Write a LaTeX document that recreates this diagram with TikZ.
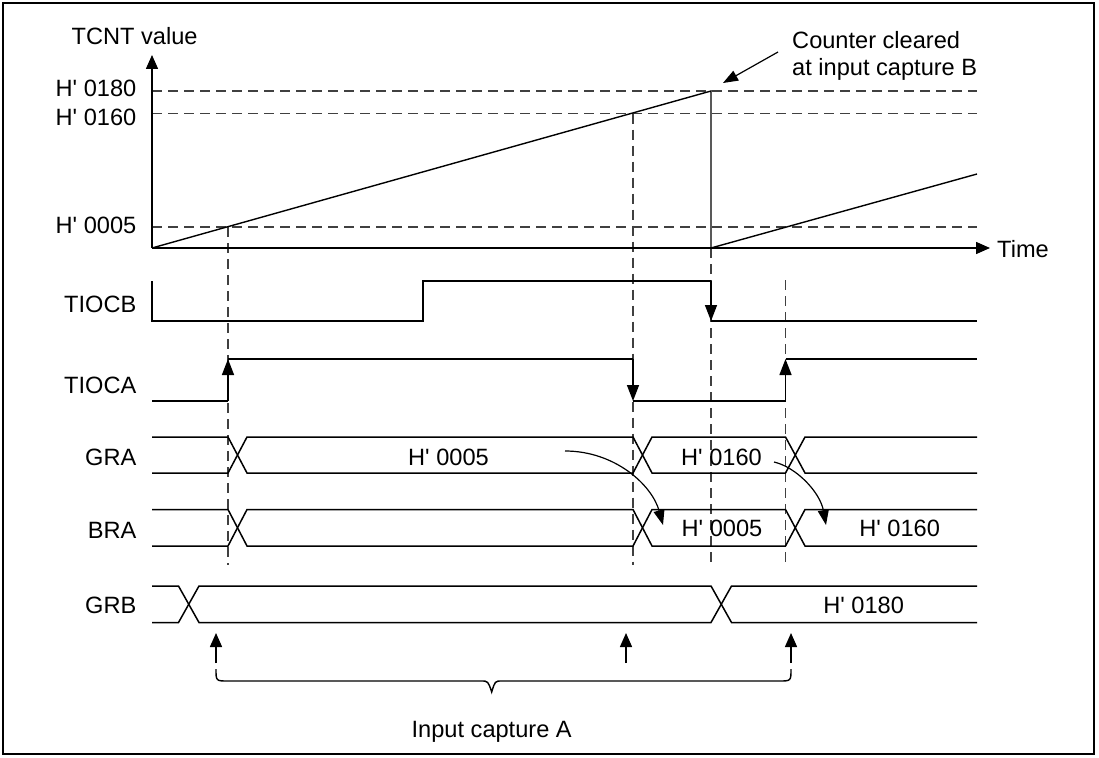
\documentclass[tikz,border=0pt]{standalone}
\usepackage{fontspec}
\newfontfamily\lsans{Liberation Sans}
\usetikzlibrary{arrows.meta}
\begin{document}
\begin{tikzpicture}[x=1pt,y=-1pt,
  sig/.style={line width=1.5pt,line cap=butt,line join=miter},
  dsh/.style={line width=1.1pt,black!75,dash pattern=on 10pt off 6pt},
  edgetip/.style={-{Triangle[width=12pt,length=16pt]}},
  axtip/.style={-{Triangle[width=12pt,length=14pt]}},
  curvtip/.style={-{Triangle[width=11pt,length=15pt]}},
  lbl/.style={inner sep=0pt,font=\lsans\fontsize{23.6}{28}\selectfont},
]
\useasboundingbox (0,0) rectangle (1099,757);
\draw[line width=1.6pt] (3,3) rectangle (1094,754);

% ---------- dashed guide lines ----------
\draw[dsh] (152,91) -- (977,91);
\draw[dsh] (152,113.5) -- (977,113.5);
\draw[dsh] (152,227) -- (977,227);
\draw[dsh] (228,227) -- (228,565);
\draw[dsh] (633,113.5) -- (633,565);
\draw[dsh] (711,248) -- (711,565);
\draw[dsh] (785.5,280) -- (785.5,563);

% ---------- axes and counter ----------
\coordinate (O) at (152,248);
\coordinate (ytop) at (152,55);
\coordinate (xend) at (990,248);
\coordinate (peak) at (711,91);
\coordinate (clr) at (711,248);
\coordinate (ramp2) at (977,174);
\draw[sig,axtip] (O) -- (ytop);
\draw[sig,axtip] (O) -- (xend);
\draw[sig,line width=1.4pt] (O) -- (peak) -- (clr) -- (ramp2);

\node[lbl,anchor=base west] (tcnt) at (71.5,44.3) {TCNT value};
\node[lbl,anchor=base east] (v180) at (136.5,96.7) {H' 0180};
\node[lbl,anchor=base east] (v160) at (136.5,125) {H' 0160};
\node[lbl,anchor=base east] (v005) at (136.5,233.3) {H' 0005};
\node[lbl,anchor=base west] (time) at (997,257) {Time};
\node[lbl,anchor=base west] (cc1) at (792,48.3) {Counter cleared};
\node[lbl,anchor=base west] (cc2) at (792,75.5) {at input capture B};
\coordinate (calltail) at (778,52);
\coordinate (calltip) at (723,83);
\draw[line width=1.2pt,curvtip] (calltail) -- (calltip);

% ---------- signal labels ----------
\node[lbl,anchor=base east] (ltiocb) at (136.5,312.7) {TIOCB};
\node[lbl,anchor=base east] (ltioca) at (136.5,393.3) {TIOCA};
\node[lbl,anchor=base east] (lgra) at (136.5,465) {GRA};
\node[lbl,anchor=base east] (lbra) at (136.5,538.3) {BRA};
\node[lbl,anchor=base east] (lgrb) at (136.5,613.3) {GRB};

% ---------- TIOCB ----------
\draw[sig] (152,281) -- (152,321) -- (423,321) -- (423,281) -- (711,281);
\draw[sig] (711,321) -- (977,321);
\coordinate (bh) at (711,281);
\coordinate (bl) at (711,321);
\draw[sig,edgetip] (bh) -- (bl);

% ---------- TIOCA ----------
\draw[sig] (152,401) -- (228,401);
\draw[sig] (228,359) -- (633,359);
\draw[sig] (633,401) -- (785.5,401);
\draw[sig] (785.5,359) -- (977,359);
\coordinate (a1l) at (228,401);  \coordinate (a1h) at (228,359);
\coordinate (a2h) at (633,359);  \coordinate (a2l) at (633,401);
\coordinate (a3l) at (785.5,401);\coordinate (a3h) at (785.5,359);
\draw[sig,edgetip] (a1l) -- (a1h);
\draw[sig,edgetip] (a2h) -- (a2l);
\draw[sig,edgetip] (a3l) -- (a3h);

% ---------- GRA bus ----------
\draw[sig] (152,437) -- (228,437) -- (247,473) -- (633,473) -- (652,437) -- (785.5,437) -- (805,473) -- (977,473);
\draw[sig] (152,473) -- (228,473) -- (247,437) -- (633,437) -- (652,473) -- (785.5,473) -- (805,437) -- (977,437);
\node[lbl,anchor=base] (gra1) at (448.5,465) {H' 0005};
\node[lbl,anchor=base] (gra2) at (721.5,465) {H' 0160};

% ---------- BRA bus ----------
\draw[sig] (152,509.5) -- (228,509.5) -- (247,546) -- (633,546) -- (652,509.5) -- (785.5,509.5) -- (805,546) -- (977,546);
\draw[sig] (152,546) -- (228,546) -- (247,509.5) -- (633,509.5) -- (652,546) -- (785.5,546) -- (805,509.5) -- (977,509.5);
\node[lbl,anchor=base] (bra1) at (722,536) {H' 0005};
\node[lbl,anchor=base] (bra2) at (899.7,536) {H' 0160};

% ---------- GRB bus ----------
\draw[sig] (152,586) -- (178.5,586) -- (199,622.5) -- (711,622.5) -- (731.5,586) -- (977,586);
\draw[sig] (152,622.5) -- (178.5,622.5) -- (199,586) -- (711,586) -- (731.5,622.5) -- (977,622.5);
\node[lbl,anchor=base] (grb1) at (863.7,613.3) {H' 0180};

% ---------- transfer arrows ----------
\coordinate (t1s) at (565,451);
\coordinate (t1e) at (663,525);
\coordinate (t2s) at (774,462);
\coordinate (t2e) at (826,525);
\draw[line width=1.2pt,curvtip] (t1s) .. controls (615,451) and (652,485) .. (t1e);
\draw[line width=1.2pt,curvtip] (t2s) .. controls (796,467) and (820,492) .. (t2e);

% ---------- input capture A ----------
\coordinate (c1b) at (216,663); \coordinate (c1t) at (216,633);
\coordinate (c2b) at (626,663); \coordinate (c2t) at (626,633);
\coordinate (c3b) at (791,663); \coordinate (c3t) at (791,633);
\draw[sig,axtip] (c1b) -- (c1t);
\draw[sig,axtip] (c2b) -- (c2t);
\draw[sig,axtip] (c3b) -- (c3t);
\draw[line width=1.4pt] (216,669) .. controls (216,681) .. (228,681) -- (481,681)
  .. controls (488,681) .. (491.7,692) .. controls (495,681) .. (502,681)
  -- (779,681) .. controls (791,681) .. (791,669);
\node[lbl,anchor=base] (ica) at (491.7,737) {Input capture A};
\end{tikzpicture}
\end{document}
